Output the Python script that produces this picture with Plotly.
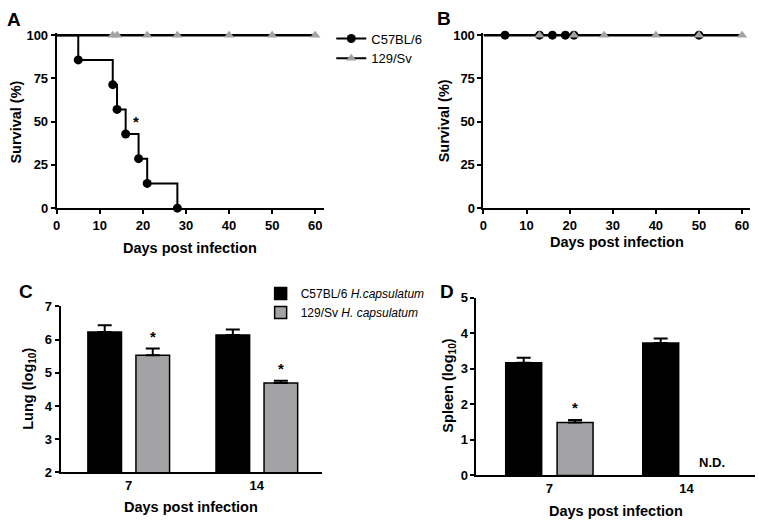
import plotly.graph_objects as go

# --- survival data (A: lethal inoculum, B: sublethal) ---
a_c57_days = [0, 5, 13, 14, 16, 19, 21, 28]
a_c57_surv = [100, 85.7, 71.4, 57.1, 42.9, 28.6, 14.3, 0]
a_129_days = [0, 13, 14, 21, 28, 40, 50, 60]
a_129_surv = [100, 100, 100, 100, 100, 100, 100, 100]

b_c57_days = [0, 5, 13, 16, 19, 21, 50, 60]
b_c57_surv = [100, 100, 100, 100, 100, 100, 100, 100]
b_129_days = [0, 13, 21, 28, 40, 50, 60]
b_129_surv = [100, 100, 100, 100, 100, 100, 100]

# --- fungal burden (C: lung, D: spleen) ---
days = ["7", "14"]
lung_c57 = [6.23, 6.14]
lung_c57_err = [0.20, 0.16]
lung_129 = [5.53, 4.69]
lung_129_err = [0.20, 0.07]

spleen_c57 = [3.17, 3.72]
spleen_c57_err = [0.14, 0.13]
spleen_129 = [1.49, None]
spleen_129_err = [0.07, 0]

W, H = 759, 532
FONT = "Liberation Sans, Arial, sans-serif"
GRAY = "#a3a3a6"
BARGAP, GROUPGAP = 0.25, 0.3


def px_x(p):
    return p / W


def px_y(p):
    return 1 - p / H


fig = go.Figure()

# A
fig.add_trace(go.Scatter(x=a_129_days, y=a_129_surv, mode="lines", line=dict(color="black", width=2.5),
                         xaxis="x", yaxis="y", showlegend=False, cliponaxis=False))
fig.add_trace(go.Scatter(x=a_c57_days, y=a_c57_surv, mode="lines", line=dict(color="black", width=2, shape="hv"),
                         xaxis="x", yaxis="y", showlegend=False, cliponaxis=False))
fig.add_trace(go.Scatter(x=a_c57_days[1:], y=a_c57_surv[1:], mode="markers",
                         marker=dict(color="black", size=9, symbol="circle"),
                         xaxis="x", yaxis="y", showlegend=False, cliponaxis=False))
fig.add_trace(go.Scatter(x=a_129_days[1:], y=a_129_surv[1:], mode="markers",
                         marker=dict(color=GRAY, size=9, symbol="triangle-up"),
                         xaxis="x", yaxis="y", showlegend=False, cliponaxis=False))
# legend entries for A
fig.add_trace(go.Scatter(x=[None], y=[None], mode="lines+markers", name="C57BL/6",
                         line=dict(color="black", width=2), marker=dict(color="black", size=9),
                         xaxis="x", yaxis="y", legend="legend"))
fig.add_trace(go.Scatter(x=[None], y=[None], mode="lines+markers", name="129/Sv",
                         line=dict(color="black", width=2), marker=dict(color=GRAY, size=9, symbol="triangle-up"),
                         xaxis="x", yaxis="y", legend="legend"))

# B
fig.add_trace(go.Scatter(x=b_c57_days, y=b_c57_surv, mode="lines", line=dict(color="black", width=2.5),
                         xaxis="x2", yaxis="y2", showlegend=False, cliponaxis=False))
fig.add_trace(go.Scatter(x=b_c57_days[1:-1], y=b_c57_surv[1:-1], mode="markers",
                         marker=dict(color="black", size=9),
                         xaxis="x2", yaxis="y2", showlegend=False, cliponaxis=False))
fig.add_trace(go.Scatter(x=b_129_days[1:], y=b_129_surv[1:], mode="markers",
                         marker=dict(color=GRAY, size=9, symbol="triangle-up"),
                         xaxis="x2", yaxis="y2", showlegend=False, cliponaxis=False))

# C
err_style = dict(type="data", symmetric=False, arrayminus=[0, 0], thickness=2, width=7, color="black")
fig.add_trace(go.Bar(x=days, y=lung_c57, name="C57BL/6 <i>H.capsulatum</i>",
                     marker=dict(color="black", line=dict(color="black", width=1.5)),
                     error_y=dict(array=lung_c57_err, **err_style),
                     xaxis="x3", yaxis="y3", legend="legend2", base=0))
fig.add_trace(go.Bar(x=days, y=lung_129, name="129/Sv <i>H. capsulatum</i>",
                     marker=dict(color=GRAY, line=dict(color="black", width=1.5)),
                     error_y=dict(array=lung_129_err, **err_style),
                     xaxis="x3", yaxis="y3", legend="legend2", base=0))

# D
fig.add_trace(go.Bar(x=days, y=spleen_c57, showlegend=False,
                     marker=dict(color="black", line=dict(color="black", width=1.5)),
                     error_y=dict(array=spleen_c57_err, **err_style),
                     xaxis="x4", yaxis="y4"))
fig.add_trace(go.Bar(x=days, y=spleen_129, showlegend=False,
                     marker=dict(color=GRAY, line=dict(color="black", width=1.5)),
                     error_y=dict(array=spleen_129_err, **err_style),
                     xaxis="x4", yaxis="y4"))

tickfont = dict(family=FONT, size=13, color="black", weight="bold")
common = dict(showline=True, linewidth=2, linecolor="black", showgrid=False, zeroline=False,
              tickfont=tickfont, ticks="outside", ticklen=4, tickwidth=2, tickcolor="black",
              fixedrange=True)

# y range runs a hair past 100 so the 100% lines are not cut in half by the plot clip
SURV_TOP = 101
surv_top_px = 207 - (207 - 29) * SURV_TOP / 100

fig.update_layout(
    width=W, height=H, margin=dict(l=0, r=0, t=0, b=0),
    paper_bgcolor="white", plot_bgcolor="white",
    font=dict(family=FONT, color="black"),
    barmode="group", bargap=BARGAP, bargroupgap=GROUPGAP,
    xaxis=dict(domain=[px_x(53), px_x(322)], range=[0, 62.1], tickvals=[0, 10, 20, 30, 40, 50, 60],
               anchor="y", **common),
    yaxis=dict(domain=[px_y(207), px_y(surv_top_px)], range=[0, SURV_TOP], tickvals=[0, 25, 50, 75, 100],
               anchor="x", **common),
    xaxis2=dict(domain=[px_x(482), px_x(750)], range=[0, 61.85], tickvals=[0, 10, 20, 30, 40, 50, 60],
                anchor="y2", **common),
    yaxis2=dict(domain=[px_y(207), px_y(surv_top_px)], range=[0, SURV_TOP], tickvals=[0, 25, 50, 75, 100],
                anchor="x2", **common),
    xaxis3=dict(domain=[px_x(57), px_x(320)], type="category", range=[-0.531, 1.511],
                anchor="y3", **{**common, "ticks": ""}),
    yaxis3=dict(domain=[px_y(479), px_y(308)], range=[2, 7], tickvals=[2, 3, 4, 5, 6, 7],
                anchor="x3", **common),
    xaxis4=dict(domain=[px_x(475), px_x(755)], type="category", range=[-0.532, 1.501],
                anchor="y4", **{**common, "ticks": ""}),
    yaxis4=dict(domain=[px_y(482), px_y(299)], range=[0, 5], tickvals=[0, 1, 2, 3, 4, 5],
                anchor="x4", **common),
    legend=dict(x=px_x(329), y=px_y(17), xanchor="left", yanchor="top", bgcolor="rgba(0,0,0,0)",
                font=dict(family=FONT, size=13, color="black"), tracegroupgap=0, itemwidth=30),
    legend2=dict(x=px_x(258), y=px_y(280), xanchor="left", yanchor="top", bgcolor="rgba(0,0,0,0)",
                 font=dict(family=FONT, size=12, color="black"), tracegroupgap=0, itemwidth=30),
)

title_font = dict(family=FONT, size=14.5, color="black", weight="bold")
letter_font = dict(family=FONT, size=19, color="black", weight="bold")
ann = []
# panel letters
for letter, x, y in [("A", 10, 13), ("B", 442, 12), ("C", 22, 293), ("D", 445, 293)]:
    ann.append(dict(text=letter, x=px_x(x), y=px_y(y), xref="paper", yref="paper", showarrow=False,
                    xanchor="center", yanchor="middle", font=letter_font))
# axis titles
for txt, x, y in [("Days post infection", 187, 248), ("Days post infection", 616, 242),
                  ("Days post infection", 188, 515), ("Days post infection", 615, 519)]:
    ann.append(dict(text=txt, x=px_x(x), y=px_y(y), xref="paper", yref="paper", showarrow=False,
                    xanchor="center", yanchor="middle", font=title_font))
for txt, x, y in [("Survival (%)", 12, 118), ("Survival (%)", 442, 117),
                  ("Lung (log<sub>10</sub>)", 25, 393), ("Spleen (log<sub>10</sub>)", 447, 390)]:
    ann.append(dict(text=txt, x=px_x(x), y=px_y(y), xref="paper", yref="paper", showarrow=False,
                    textangle=-90, xanchor="center", yanchor="middle", font=title_font))

star_font = dict(family=FONT, size=15, color="black", weight="bold")
# significance in A
ann.append(dict(text="*", x=18.5, y=50, xref="x", yref="y", showarrow=False, font=star_font))
# stars above the 129/Sv bars (offset of second bar in a group)
offset = (1 - BARGAP) / 4
for i, (v, e) in enumerate(zip(lung_129, lung_129_err)):
    ann.append(dict(text="*", x=i + offset, y=v + e, xref="x3", yref="y3", showarrow=False,
                    yanchor="bottom", yshift=2, font=star_font))
ann.append(dict(text="*", x=offset, y=spleen_129[0] + spleen_129_err[0], xref="x4", yref="y4",
                showarrow=False, yanchor="bottom", yshift=2, font=star_font))
ann.append(dict(text="N.D.", x=1 + offset, y=0, xref="x4", yref="y4", showarrow=False,
                yanchor="bottom", yshift=3, font=dict(family=FONT, size=13, color="black", weight="bold")))
fig.update_layout(annotations=ann)

# drop the default 8px page margin so the figure sits at the window's corner
fig.write_html("out.html", config={"displayModeBar": False},
               post_script="document.body.style.margin='0';")
